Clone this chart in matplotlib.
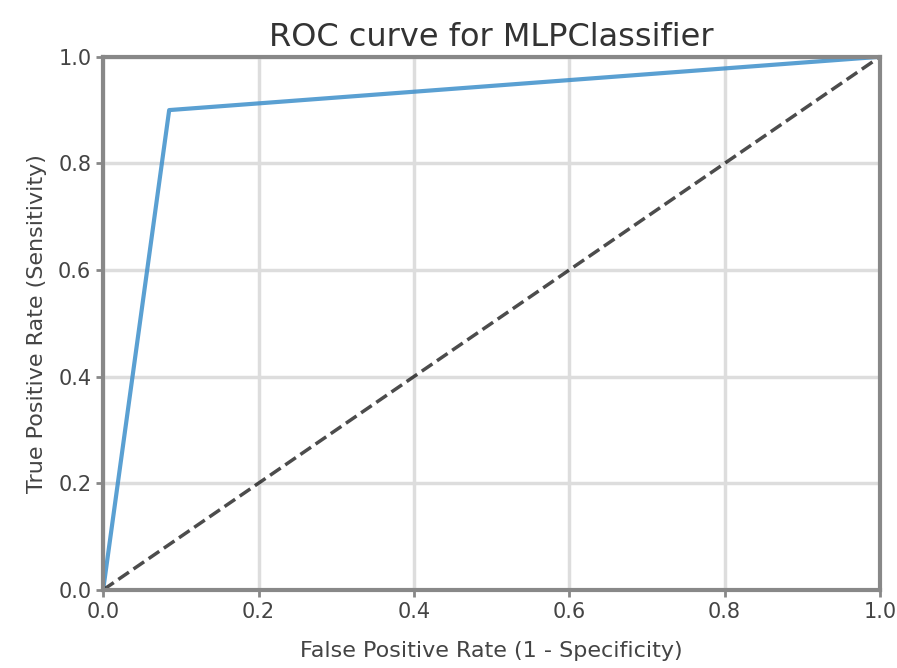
import numpy as np
import matplotlib
matplotlib.use('Agg')
import matplotlib.pyplot as plt

# ROC points
fpr = [0.0, 0.085, 1.0]
tpr = [0.0, 0.90, 1.0]
diag = [0.0, 1.0]

plt.rcParams['text.color'] = '#333333'
plt.rcParams['axes.labelcolor'] = '#444444'
plt.rcParams['xtick.color'] = '#444444'
plt.rcParams['ytick.color'] = '#444444'

fig = plt.figure(figsize=(8.97, 6.68), dpi=100)
ax = fig.add_axes([0.115, 0.117, 0.866, 0.798])

ax.plot(fpr, tpr, color='#3d8fcb', linewidth=3, alpha=0.85)
ax.plot(diag, diag, 'k--', linewidth=2.5, alpha=0.7)

ax.set_xlim(0.0, 1.0)
ax.set_ylim(0.0, 1.0)
ax.set_xticks(np.arange(0, 1.01, 0.2))
ax.set_yticks(np.arange(0, 1.01, 0.2))
ax.tick_params(labelsize=15, width=2, length=5, color='#888888')
for s in ax.spines.values():
    s.set_color('#888888')
    s.set_linewidth(3)
ax.grid(True, color='#dddddd', linewidth=2.5)

ax.set_title('ROC curve for MLPClassifier', fontsize=23, pad=8)
ax.set_xlabel('False Positive Rate (1 - Specificity)', fontsize=16, labelpad=14)
ax.set_ylabel('True Positive Rate (Sensitivity)', fontsize=16, labelpad=8)

fig.savefig('out.png', dpi=100)
